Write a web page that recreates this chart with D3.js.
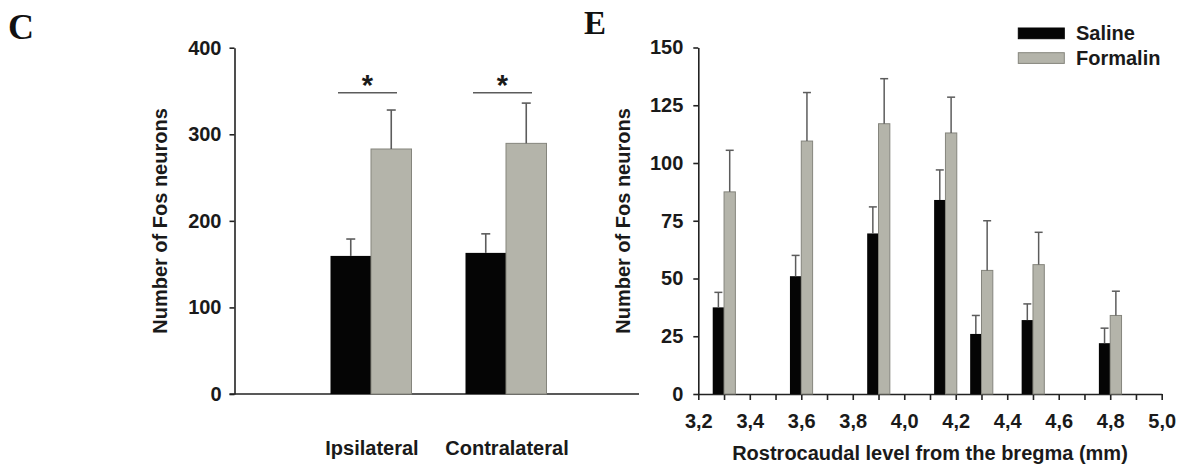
<!DOCTYPE html>
<html>
<head>
<meta charset="utf-8">
<script src="https://cdn.jsdelivr.net/npm/d3@7"></script>
<style>
  html, body { margin: 0; padding: 0; background: #fff; }
  svg { display: block; }
  text { font-family: "Liberation Sans", Arial, Helvetica, sans-serif; font-weight: bold; fill: #1a1a1a; }
  .panel { font-family: "Liberation Serif", "Times New Roman", serif; font-weight: bold; fill: #111; }
</style>
</head>
<body>
<svg id="chart" width="1182" height="470"></svg>
<script>
// ---------- Panel C data ----------
const sidesC = ["Ipsilateral", "Contralateral"];
const salineC = [159.5, 163];
const salineSemC = [19.5, 22];
const formalinC = [283, 289.5];
const formalinSemC = [45, 46.5];
const sigLevelC = [348, 348];
const yTicksC = [0, 100, 200, 300, 400];

// ---------- Panel E data ----------
const levelsE = [3.3, 3.6, 3.9, 4.16, 4.3, 4.5, 4.8];
const salineE = [37.5, 51, 69.5, 84, 26, 32, 22];
const salineSemE = [6.5, 9, 11.5, 13, 8, 7, 6.5];
const formalinE = [87.5, 109.5, 117, 113, 53.5, 56, 34];
const formalinSemE = [18, 21, 19.5, 15.5, 21.5, 14, 10.5];
const yTicksE = [0, 25, 50, 75, 100, 125, 150];
const xTicksE = [3.2, 3.3, 3.4, 3.5, 3.6, 3.7, 3.8, 3.9, 4.0, 4.1, 4.2, 4.3, 4.4, 4.5, 4.6, 4.7, 4.8, 4.9, 5.0];
const xTickLabelsE = ["3,2", "", "3,4", "", "3,6", "", "3,8", "", "4,0", "", "4,2", "", "4,4", "", "4,6", "", "4,8", "", "5,0"];
const seriesNames = ["Saline", "Formalin"];

const BLACK = "#050505";
const GRAY = "#b4b4aa";
const GRAY_STROKE = "#85857d";
const AXIS = "#222";
const ERR = "#5c5c5c";

const svg = d3.select("#chart");

// ================= Panel C =================
const gC = svg.append("g");
const yC = d3.scaleLinear().domain([0, 400]).range([394, 47.7]);
const xC = d3.scaleBand().domain(sidesC).range([303.5, 573.5]);
const bwC = xC.bandwidth() * 0.3;

gC.append("text").attr("class", "panel").attr("x", 8).attr("y", 39)
  .style("font-size", "36px").text("C");

// y axis
const yAxisC = d3.axisLeft(yC).tickValues(yTicksC).tickSize(5).tickSizeOuter(0).tickPadding(8);
const gyC = gC.append("g").attr("transform", "translate(234.5,0)").call(yAxisC);
gyC.selectAll("text").style("font-size", "20px").style("font-family", "Liberation Sans, Arial, sans-serif").attr("fill", "#1a1a1a");
gyC.selectAll("line, path").attr("stroke", AXIS).attr("stroke-width", 1.6);

// x baseline
gC.append("line").attr("x1", 229.5).attr("x2", 639).attr("y1", yC(0)).attr("y2", yC(0))
  .attr("stroke", AXIS).attr("stroke-width", 1.6);

// bars
sidesC.forEach((s, i) => {
  const c = xC(s) + xC.bandwidth() / 2;
  gC.append("rect").attr("x", c - bwC).attr("width", bwC)
    .attr("y", yC(salineC[i])).attr("height", yC(0) - yC(salineC[i])).attr("fill", BLACK);
  gC.append("rect").attr("x", c).attr("width", bwC)
    .attr("y", yC(formalinC[i])).attr("height", yC(0) - yC(formalinC[i]))
    .attr("fill", GRAY).attr("stroke", GRAY_STROKE).attr("stroke-width", 1);
  // error bars
  const eb = (cx, v, e) => {
    gC.append("line").attr("x1", cx).attr("x2", cx).attr("y1", yC(v)).attr("y2", yC(v + e))
      .attr("stroke", ERR).attr("stroke-width", 1.6);
    gC.append("line").attr("x1", cx - 4.5).attr("x2", cx + 4.5).attr("y1", yC(v + e)).attr("y2", yC(v + e))
      .attr("stroke", ERR).attr("stroke-width", 1.6);
  };
  eb(c - bwC / 2, salineC[i], salineSemC[i]);
  eb(c + bwC / 2, formalinC[i], formalinSemC[i]);
  // significance
  const sc = c - 3.5;
  gC.append("line").attr("x1", sc - 29.5).attr("x2", sc + 29.5)
    .attr("y1", yC(sigLevelC[i])).attr("y2", yC(sigLevelC[i]))
    .attr("stroke", ERR).attr("stroke-width", 1.6);
  gC.append("text").attr("x", sc).attr("y", yC(sigLevelC[i]) + 2).attr("text-anchor", "middle")
    .style("font-size", "29px").text("*");
  // category label
  gC.append("text").attr("x", c + 1).attr("y", 455).attr("text-anchor", "middle")
    .style("font-size", "20px").text(s);
});

// y title
gC.append("text").attr("transform", "translate(166.5,221) rotate(-90)")
  .attr("text-anchor", "middle").style("font-size", "20px").text("Number of Fos neurons");

// ================= Panel E =================
const gE = svg.append("g");
const yE = d3.scaleLinear().domain([0, 150]).range([394, 47.5]);
const xE = d3.scaleLinear().domain([3.2, 5.0]).range([698.3, 1161.7]);
const bwE = xE(3.2 + 0.044) - xE(3.2);

gE.append("text").attr("class", "panel").attr("x", 584).attr("y", 34)
  .style("font-size", "33px").text("E");

const yAxisE = d3.axisLeft(yE).tickValues(yTicksE).tickSize(5).tickSizeOuter(0).tickPadding(10);
const gyE = gE.append("g").attr("transform", `translate(${xE(3.2)},0)`).call(yAxisE);
gyE.selectAll("text").style("font-size", "20px").style("font-family", "Liberation Sans, Arial, sans-serif").attr("fill", "#1a1a1a");
gyE.selectAll("line, path").attr("stroke", AXIS).attr("stroke-width", 1.6);

const xAxisE = d3.axisBottom(xE).tickValues(xTicksE)
  .tickFormat((d, i) => xTickLabelsE[i]).tickSize(6).tickSizeOuter(0).tickPadding(14);
const gxE = gE.append("g").attr("transform", `translate(0,${yE(0)})`).call(xAxisE);
gxE.selectAll("text").style("font-size", "20px").style("font-family", "Liberation Sans, Arial, sans-serif").attr("fill", "#1a1a1a");
gxE.selectAll("line, path").attr("stroke", AXIS).attr("stroke-width", 1.6);

levelsE.forEach((lv, i) => {
  const c = xE(lv);
  gE.append("rect").attr("x", c - bwE).attr("width", bwE)
    .attr("y", yE(salineE[i])).attr("height", yE(0) - yE(salineE[i])).attr("fill", BLACK);
  gE.append("rect").attr("x", c).attr("width", bwE)
    .attr("y", yE(formalinE[i])).attr("height", yE(0) - yE(formalinE[i]))
    .attr("fill", GRAY).attr("stroke", GRAY_STROKE).attr("stroke-width", 1);
  const eb = (cx, v, e) => {
    gE.append("line").attr("x1", cx).attr("x2", cx).attr("y1", yE(v)).attr("y2", yE(v + e))
      .attr("stroke", ERR).attr("stroke-width", 1.5);
    gE.append("line").attr("x1", cx - 4).attr("x2", cx + 4).attr("y1", yE(v + e)).attr("y2", yE(v + e))
      .attr("stroke", ERR).attr("stroke-width", 1.5);
  };
  eb(c - bwE / 2, salineE[i], salineSemE[i]);
  eb(c + bwE / 2, formalinE[i], formalinSemE[i]);
});

gE.append("text").attr("transform", "translate(629.5,221) rotate(-90)")
  .attr("text-anchor", "middle").style("font-size", "20px").text("Number of Fos neurons");
gE.append("text").attr("x", 930).attr("y", 460).attr("text-anchor", "middle")
  .style("font-size", "20px").text("Rostrocaudal level from the bregma (mm)");

// legend
const leg = gE.append("g");
seriesNames.forEach((n, i) => {
  const y0 = 28 + i * 24.7;
  leg.append("rect").attr("x", 1018.3).attr("y", y0).attr("width", 46).attr("height", 10.7)
    .attr("fill", i === 0 ? BLACK : GRAY)
    .attr("stroke", i === 0 ? BLACK : GRAY_STROKE).attr("stroke-width", 1);
  leg.append("text").attr("x", 1076).attr("y", y0 + 12.3).style("font-size", "20px").text(n);
});
</script>
</body>
</html>
